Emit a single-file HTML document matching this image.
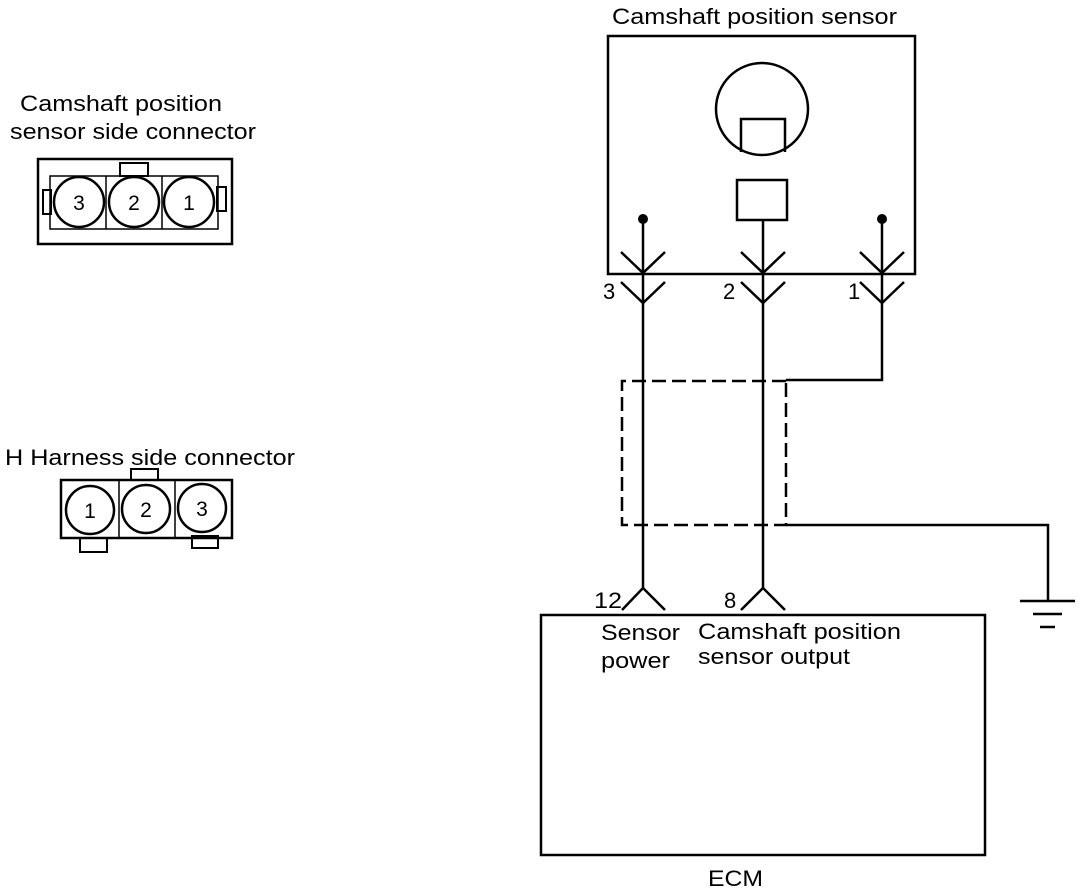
<!DOCTYPE html>
<html><head><style>body{margin:0;background:#fff}svg{display:block}text{font-family:"Liberation Sans",sans-serif;fill:#000}</style></head><body>
<svg width="1088" height="892" viewBox="0 0 1088 892" xmlns="http://www.w3.org/2000/svg">
<g fill="none" stroke="#000" stroke-width="2.5">
<rect x="38" y="159" width="194" height="85"/>
<rect x="50" y="176" width="168" height="53" stroke-width="1.5"/>
<line x1="106" y1="176" x2="106" y2="229" stroke-width="1.5"/>
<line x1="162" y1="176" x2="162" y2="229" stroke-width="1.5"/>
<rect x="120" y="163" width="28" height="13" stroke-width="2"/>
<rect x="43" y="190" width="8" height="24" stroke-width="2"/>
<rect x="217" y="187" width="9" height="24" stroke-width="2"/>
<circle cx="79" cy="202" r="25"/><circle cx="134" cy="202" r="25"/><circle cx="189" cy="202" r="25"/>
<rect x="61" y="480" width="171" height="58"/>
<line x1="119" y1="480" x2="119" y2="538" stroke-width="1.5"/>
<line x1="175" y1="480" x2="175" y2="538" stroke-width="1.5"/>
<rect x="131" y="469" width="27" height="11" stroke-width="2"/>
<rect x="80" y="538" width="27" height="14" stroke-width="2"/>
<rect x="192" y="536" width="26" height="12" stroke-width="2"/>
<circle cx="90" cy="510" r="24"/><circle cx="146" cy="509" r="24"/><circle cx="202" cy="508" r="24"/>
<rect x="608" y="36" width="307" height="238"/>
<circle cx="762" cy="109" r="46"/>
<path d="M741 152 V119 H785 V152"/>
<rect x="737" y="180" width="50" height="40"/>
<line x1="643" y1="219" x2="643" y2="588"/>
<line x1="763" y1="220" x2="763" y2="588"/>
<polyline points="882,219 882,380 786,380"/>
<path d="M621 252 L643 273 L665 252 M621 282 L643 303 L665 282"/>
<path d="M741 252 L763 273 L785 252 M741 282 L763 303 L785 282"/>
<path d="M860 252 L882 273 L904 252 M860 282 L882 303 L904 282"/>
<path d="M786 381 H622 V525 H786 V381" stroke-dasharray="14,6"/>
<polyline points="786,525 1048,525 1048,600"/>
<line x1="1020" y1="601" x2="1075" y2="601"/>
<line x1="1033" y1="614" x2="1062" y2="614"/>
<line x1="1040" y1="627" x2="1055" y2="627"/>
<rect x="541" y="615" width="444" height="240"/>
<path d="M622 610 L643 588 L665 610 M741 610 L763 588 L785 610"/>
</g>
<circle cx="643" cy="219" r="5"/><circle cx="882" cy="219" r="5"/>
<g font-size="22" lengthAdjust="spacingAndGlyphs">
<text x="20" y="111" textLength="202" lengthAdjust="spacingAndGlyphs">Camshaft position</text>
<text x="10" y="139" textLength="246" lengthAdjust="spacingAndGlyphs">sensor side connector</text>
<text x="5" y="465" textLength="290" lengthAdjust="spacingAndGlyphs">H Harness side connector</text>
<text x="612" y="24" textLength="285" lengthAdjust="spacingAndGlyphs">Camshaft position sensor</text>
<text x="603" y="299">3</text><text x="723" y="299">2</text><text x="848" y="299">1</text>
<text x="594" y="608" textLength="28" lengthAdjust="spacingAndGlyphs">12</text><text x="724" y="608">8</text>
<text x="601" y="640" textLength="79" lengthAdjust="spacingAndGlyphs">Sensor</text>
<text x="601" y="668" textLength="69" lengthAdjust="spacingAndGlyphs">power</text>
<text x="698" y="639" textLength="203" lengthAdjust="spacingAndGlyphs">Camshaft position</text>
<text x="698" y="664" textLength="152" lengthAdjust="spacingAndGlyphs">sensor output</text>
<text x="708" y="886" textLength="55" lengthAdjust="spacingAndGlyphs">ECM</text>
</g>
<g font-size="21" text-anchor="middle">
<text x="79" y="210">3</text><text x="134" y="210">2</text><text x="189" y="210">1</text>
<text x="90" y="518">1</text><text x="146" y="517">2</text><text x="202" y="516">3</text>
</g>
</svg>
</body></html>
